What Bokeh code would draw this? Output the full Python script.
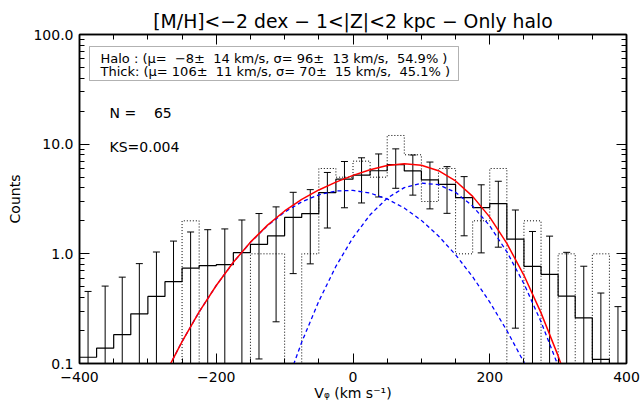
import numpy as np
from bokeh.plotting import figure
from bokeh.models import (ColumnDataSource, FixedTicker, SingleIntervalTicker, LinearAxis,
                          LogAxis, Label, BoxAnnotation, CustomJSTickFormatter, Range1d)
from bokeh.embed import file_html
from bokeh.resources import INLINE

# ---------------- data ----------------
bin_edges = list(range(-400, 401, 25))          # 25 km/s bins
# smoothed histogram (solid) and its errors
hist_values = [0.114, 0.138, 0.183, 0.284, 0.409, 0.557, 0.742, 0.78, 0.797, 1.025,
               1.22, 1.46, 2.15, 2.33, 3.62, 4.79, 5.21, 5.72, 6.51, 5.70,
               4.72, 4.29, 3.26, 2.64, 2.87, 1.36, 0.769, 0.65, 0.412, 0.261,
               0.109, 0.05]
hist_errors = [0.34, 0.37, 0.43, 0.53, 0.63, 0.75, 0.84, 0.88, 0.89, 1.01,
               1.11, 1.22, 1.49, 1.52, 1.9, 2.16, 2.3, 2.42, 2.55, 2.27,
               2.15, 1.95, 1.8, 1.62, 1.72, 1.15, 0.83, 0.80, 0.62, 0.51,
               0.33, 0.28]
# raw counts (dotted)
raw_counts = [0, 0, 0, 0, 0, 0, 2, 0, 0, 0, 1, 1, 0, 1, 6, 5, 7, 5, 12, 8,
              3, 6, 1, 2, 6, 0, 2, 0, 1, 0, 1, 0]

# model curves
curve_v = [-300, -275, -250, -225, -200, -175, -150, -125, -100, -75, -50, -25, 0,
           25, 50, 75, 100, 125, 150, 175, 200, 225, 250, 275, 300, 325]
halo_curve = [0.0372, 0.0794, 0.1585, 0.2954, 0.5143, 0.8368, 1.273, 1.808, 2.401, 2.979,
              3.453, 3.741, 3.787, 3.582, 3.166, 2.615, 2.018, 1.455, 0.981, 0.6175,
              0.3634, 0.1998, 0.1026, 0.0493, 0.0221, 0.0093]
thick_curve = [2.2e-7, 1.6e-6, 1.07e-5, 6.2e-5, 3.1e-4, 0.0014, 0.0055, 0.0191, 0.0583, 0.1566,
               0.3697, 0.7691, 1.408, 2.268, 3.217, 4.016, 4.414, 4.270, 3.636, 2.725,
               1.798, 1.044, 0.534, 0.2402, 0.0952, 0.0332]
total_curve = [0.0372, 0.0794, 0.1585, 0.2955, 0.5146, 0.838, 1.278, 1.827, 2.459, 3.136,
               3.823, 4.510, 5.195, 5.850, 6.383, 6.631, 6.432, 5.725, 4.617, 3.343,
               2.161, 1.244, 0.637, 0.2895, 0.1173, 0.0425]

title_text = "[M/H]<\u22122 dex \u2212 1<|Z|<2 kpc \u2212 Only halo"
legend_lines = ["Halo : (\u03bc=  \u22128\u00b1  14 km/s, \u03c3= 96\u00b1  13 km/s,  54.9% )",
                "Thick: (\u03bc= 106\u00b1  11 km/s, \u03c3= 70\u00b1  15 km/s,  45.1% )"]
n_text = "N =    65"
ks_text = "KS=0.004"
y_ticks = [0.1, 1, 10, 100]
x_label = "V\u1d69 (km s\u207b\u00b9)"
y_label = "Counts"

FONT = "DejaVu Sans"
FLOOR = 1e-4

# ---------------- derived ----------------
edges = np.array(bin_edges, dtype=float)
centers = (edges[:-1] + edges[1:]) / 2
vals = np.array(hist_values)
errs = np.array(hist_errors)
upper = vals + errs
lower = np.maximum(vals - errs, FLOOR)
raw = np.maximum(np.array(raw_counts, dtype=float), FLOOR)

step_src = ColumnDataSource(dict(x=edges, y=np.append(vals, vals[-1])))
raw_src = ColumnDataSource(dict(x=edges, y=np.append(raw, raw[-1])))
err_src = ColumnDataSource(dict(x=centers, lo=lower, hi=upper))
curve_src = ColumnDataSource(dict(v=curve_v, h=halo_curve, t=thick_curve, s=total_curve))

p = figure(width=641, height=408, x_range=Range1d(-400, 400), y_range=Range1d(0.1, 100),
           y_axis_type="log", output_backend="svg", toolbar_location=None,
           min_border_left=79, min_border_right=15, min_border_top=34, min_border_bottom=45)
p.grid.visible = False
p.outline_line_color = "black"
p.outline_line_width = 1.5

minor_y = [m * d for d in (0.1, 1, 10) for m in range(2, 10)]
xticker = SingleIntervalTicker(interval=200, num_minor_ticks=4)
yticker = FixedTicker(ticks=y_ticks, minor_ticks=minor_y)

def style_axis(ax):
    ax.axis_line_color = "black"
    ax.axis_line_width = 1.5
    ax.major_tick_line_color = "black"
    ax.minor_tick_line_color = "black"
    ax.major_tick_in = 10
    ax.major_tick_out = 0
    ax.minor_tick_in = 5
    ax.minor_tick_out = 0
    ax.major_label_text_font = FONT
    ax.major_label_text_font_size = "14px"
    ax.major_label_text_color = "black"
    ax.axis_label_text_font = FONT
    ax.axis_label_text_font_size = "14px"
    ax.axis_label_text_font_style = "normal"
    ax.axis_label_text_color = "black"

xb = p.below[0]
yl = p.left[0]
style_axis(xb)
style_axis(yl)
xb.ticker = xticker
yl.ticker = yticker
xb.formatter = CustomJSTickFormatter(code="return tick < 0 ? '\u2212' + Math.abs(tick) : String(tick);")
yl.formatter = CustomJSTickFormatter(code="return tick.toFixed(1);")
xb.axis_label = x_label
yl.axis_label = y_label
xb.major_label_standoff = 8
xb.axis_label_standoff = 0
yl.major_label_standoff = 6
yl.axis_label_standoff = 7

top = LinearAxis(ticker=xticker)
right = LogAxis(ticker=yticker)
for ax in (top, right):
    style_axis(ax)
    ax.major_label_text_color = None
    ax.major_label_standoff = 0
    ax.formatter = CustomJSTickFormatter(code="return '';")
p.add_layout(top, "above")
p.add_layout(right, "right")

p.title.text = title_text
p.title.align = "center"
p.title.text_font = FONT
p.title.text_font_size = "18.8px"
p.title.text_font_style = "normal"
p.title.text_color = "black"
p.title.standoff = 6

# glyphs
p.step("x", "y", source=raw_src, mode="after", line_color="black", line_width=1, line_dash="1 2")
p.step("x", "y", source=step_src, mode="after", line_color="black", line_width=1.2)
p.segment(x0="x", y0="lo", x1="x", y1="hi", source=err_src, line_color="black", line_width=1)
p.scatter("x", "hi", source=err_src, marker="dash", size=7, line_color="black", line_width=1)
p.scatter("x", "lo", source=err_src, marker="dash", size=7, line_color="black", line_width=1)
p.line("v", "h", source=curve_src, line_color="blue", line_width=1.3, line_dash="4 3")
p.line("v", "t", source=curve_src, line_color="blue", line_width=1.3, line_dash="4 3")
p.line("v", "s", source=curve_src, line_color="red", line_width=1.5)

# legend box and texts (screen units relative to the frame)
p.add_layout(BoxAnnotation(left=10, right=379, top=317, bottom=283,
                           left_units="screen", right_units="screen",
                           top_units="screen", bottom_units="screen",
                           fill_color="white", fill_alpha=1, line_color="black", line_width=1))
for text, yy in zip(legend_lines, (305, 292.5)):
    p.add_layout(Label(x=21, y=yy, x_units="screen", y_units="screen",
                       text=text.replace(" ", "\u00a0"), text_font=FONT, text_font_size="13px",
                       text_baseline="middle", text_color="black"))
p.add_layout(Label(x=30, y=251, x_units="screen", y_units="screen", text=n_text.replace(" ", "\u00a0"),
                   text_font=FONT, text_font_size="14px", text_baseline="middle", text_color="black"))
p.add_layout(Label(x=30, y=217, x_units="screen", y_units="screen", text=ks_text,
                   text_font=FONT, text_font_size="14px", text_baseline="middle", text_color="black"))

open("out.html", "w").write(file_html(p, INLINE))
